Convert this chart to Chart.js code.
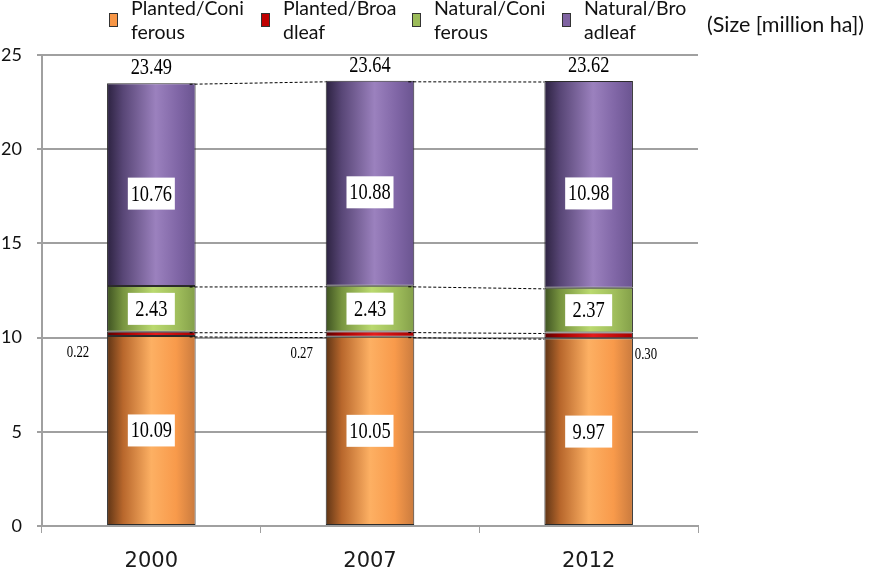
<!DOCTYPE html>
<html>
<head>
<meta charset="utf-8">
<script src="https://cdn.jsdelivr.net/npm/chart.js@4"></script>
<style>
  html, body { margin: 0; padding: 0; background: #fff; }
  #wrap { position: relative; width: 871px; height: 573px; overflow: hidden; }
  #chart { position: absolute; left: 0; top: 0; }
  .leg { position: absolute; top: -4px; font-family: Lato, "Open Sans", sans-serif; font-size: 19.5px; line-height: 24px; color: #111; }
  .leg .mk { position: absolute; left: 0; top: 17px; width: 7px; height: 12px; border: 1px solid #333; }
  .leg .tx { position: absolute; white-space: nowrap; }
  #unit { position: absolute; left: 707px; top: 10px; font-family: Lato, "Open Sans", sans-serif; font-size: 21.5px; line-height: 28px; color: #111; white-space: nowrap; }
</style>
</head>
<body>
<div id="wrap">
  <canvas id="chart" width="871" height="573"></canvas>
  <div id="legend"></div>
  <div id="unit">(Size [million ha])</div>
</div>
<script>
// 森林面積 (million ha) — 人工林/天然林 × 針葉樹/広葉樹
const years = ["2000", "2007", "2012"];
const plantedConiferous = [10.09, 10.05, 9.97];
const plantedBroadleaf = [0.22, 0.27, 0.30];
const naturalConiferous = [2.43, 2.43, 2.37];
const naturalBroadleaf = [10.76, 10.88, 10.98];
const totals = [23.49, 23.64, 23.62];
const seriesNames = [["Planted/Coni", "ferous"], ["Planted/Broa", "dleaf"], ["Natural/Coni", "ferous"], ["Natural/Bro", "adleaf"]];
const yTicks = [0, 5, 10, 15, 20, 25];

// cores: sólida (legenda) + degradê horizontal (barras)
const palette = [
  { solid: "#F79646", stops: [[0, "#5e3415"], [0.18, "#b8672c"], [0.5, "#fdb063"], [0.78, "#f89a4b"], [1, "#c97a3e"]] },
  { solid: "#C00000", stops: [[0, "#5a0000"], [0.2, "#a80000"], [0.55, "#e41c1c"], [1, "#a80000"]] },
  { solid: "#9BBB59", stops: [[0, "#3e5222"], [0.18, "#789440"], [0.52, "#bad96f"], [0.8, "#9fbd5b"], [1, "#839f49"]] },
  { solid: "#8064A2", stops: [[0, "#2c2240"], [0.18, "#584676"], [0.55, "#9b81be"], [0.8, "#8066a6"], [1, "#6a5490"]] },
];
const legendX = [109, 261, 412, 562];

// legenda em HTML (rótulos em duas linhas, como no original)
const legendEl = document.getElementById("legend");
seriesNames.forEach((name, i) => {
  const d = document.createElement("div");
  d.className = "leg";
  d.style.left = legendX[i] + "px";
  d.innerHTML = `<div class="mk" style="background:${palette[i].solid}"></div>` +
    `<div class="tx" style="left:22px;top:0">${name[0]}<br>${name[1]}</div>`;
  legendEl.appendChild(d);
});

function barGradient(idx) {
  return (ctx) => {
    const chart = ctx.chart;
    const xs = chart.scales && chart.scales.x;
    if (!xs || ctx.dataIndex === undefined || !isFinite(xs.width) || xs.width <= 0) return palette[idx].solid;
    const c = xs.getPixelForValue(ctx.dataIndex);
    const w = xs.width / years.length * 0.405;
    const g = chart.ctx.createLinearGradient(c - w / 2, 0, c + w / 2, 0);
    palette[idx].stops.forEach(([o, col]) => g.addColorStop(o, col));
    return g;
  };
}

const serieData = [plantedConiferous, plantedBroadleaf, naturalConiferous, naturalBroadleaf];

const datasets = serieData.map((data, i) => ({
  label: seriesNames[i].join(""),
  data,
  backgroundColor: barGradient(i),
  borderColor: "#2b2b2b",
  borderWidth: 1,
  borderSkipped: false,
  categoryPercentage: 1,
  barPercentage: 0.405,
}));

function drawSqueezed(ctx, text, x, y, size, sx) {
  ctx.save();
  ctx.translate(x, y);
  ctx.scale(sx, 1);
  ctx.font = `${size}px "Liberation Serif", "Times New Roman", serif`;
  ctx.textAlign = "center";
  ctx.textBaseline = "middle";
  ctx.fillStyle = "#000";
  ctx.fillText(text, 0, 0);
  ctx.restore();
}

// linhas de série tracejadas + rótulos de dados
const labelsPlugin = {
  id: "labelsPlugin",
  afterDatasetsDraw(chart) {
    const ctx = chart.ctx;
    const metas = datasets.map((_, i) => chart.getDatasetMeta(i));

    // linhas tracejadas ligando o topo de cada segmento
    ctx.save();
    ctx.strokeStyle = "#000";
    ctx.lineWidth = 1;
    ctx.setLineDash([3, 2]);
    metas.forEach(meta => {
      for (let i = 0; i < meta.data.length - 1; i++) {
        const a = meta.data[i], b = meta.data[i + 1];
        ctx.beginPath();
        ctx.moveTo(a.x + a.width / 2 - 6, a.y + 1);
        ctx.lineTo(b.x - b.width / 2, b.y + 1);
        ctx.stroke();
      }
    });
    ctx.restore();

    years.forEach((_, i) => {
      // rótulos em caixa branca: conífera plantada, conífera natural, folhosa natural
      [0, 2, 3].forEach(s => {
        const el = metas[s].data[i];
        // no original o rótulo roxo fica um pouco abaixo do meio
        const cy = (el.y + el.base) / 2 + (s === 3 ? 9 : 0);
        ctx.fillStyle = "#fff";
        ctx.fillRect(el.x - 23.5, cy - 16, 47, 32);
        drawSqueezed(ctx, serieData[s][i].toFixed(2), el.x, cy + 1, 23, 0.8);
      });
      // folhosa plantada: rótulo pequeno ao lado da barra
      const red = metas[1].data[i];
      const side = i === years.length - 1 ? 1 : -1;
      const off = i === 0 ? 29 : i === 1 ? 24 : 13;
      const lx = red.x + side * (red.width / 2 + off);
      drawSqueezed(ctx, plantedBroadleaf[i].toFixed(2), lx, red.base + 17, 16, 0.8);
      // total acima da barra
      const top = metas[3].data[i];
      drawSqueezed(ctx, totals[i].toFixed(2), top.x, top.y - 15, 23, 0.8);
    });
  },
};

new Chart(document.getElementById("chart"), {
  type: "bar",
  data: { labels: years, datasets },
  options: {
    responsive: false,
    animation: false,
    layout: { padding: { top: 55, right: 173, left: 0, bottom: 0 } },
    plugins: { legend: { display: false }, tooltip: { enabled: false } },
    scales: {
      x: {
        stacked: true,
        afterFit: (s) => { s.height = 47; },
        border: { display: true, color: "#a0a0a0", width: 2 },
        grid: { drawOnChartArea: false, drawTicks: true, tickLength: 7, color: "#a0a0a0", lineWidth: 1, offset: true },
        ticks: { color: "#1a1a1a", padding: 16, font: { family: "DejaVu Sans", size: 21 } },
      },
      y: {
        stacked: true,
        min: 0,
        max: 25,
        afterFit: (s) => { s.width = 42; },
        afterBuildTicks: (s) => { s.ticks = yTicks.map(v => ({ value: v })); },
        border: { display: true, color: "#a0a0a0", width: 2 },
        grid: { color: "#a0a0a0", lineWidth: 2, tickLength: 5 },
        ticks: { color: "#111", padding: 15, font: { family: "Lato", size: 18 } },
      },
    },
  },
  plugins: [labelsPlugin],
});
</script>
</body>
</html>
